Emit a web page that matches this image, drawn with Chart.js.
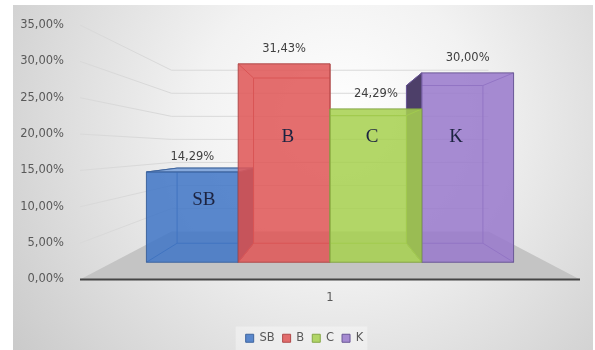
<!DOCTYPE html>
<html>
<head>
<meta charset="utf-8">
<script src="https://cdn.jsdelivr.net/npm/chart.js@4.4.1/dist/chart.umd.min.js"></script>
<style>
  html, body { margin: 0; padding: 0; background: #ffffff; }
  canvas { display: block; }
</style>
</head>
<body>
<canvas id="grade-chart" width="595" height="350"></canvas>
<script>

// chart values
const categories = ['1'];
const seriesNames = ['SB', 'B', 'C', 'K'];
const seriesValues = [14.29, 31.43, 24.29, 30.00];
const yTickValues = [0, 5, 10, 15, 20, 25, 30, 35];

// colours per series: front face, edges, side face, top face
const faceColors = ['rgba(64,118,198,0.86)', 'rgba(223,86,86,0.86)', 'rgba(167,209,79,0.86)', 'rgba(153,121,204,0.86)'];
const edgeColors = ['#3f659e', '#b04a4a', '#84a646', '#6a5796'];
const sideColors = ['#2f4b78', '#7a3434', '#5c7632', '#4d3f69'];
const topColors = ['#86a9dc', '#ee9c9c', '#cbe59a', '#c3b1e2'];

function percentLabel(v) {
  return v.toFixed(2).replace('.', ',') + '%';
}

//-------------------
//- 3D column boxes -
//-------------------
const perspectiveBars = {
  id: 'perspectiveBars',

  afterLayout(chart, args, opts) {
    // legend sits centred on the frame, not on the plot
    chart.legend.left += opts.legendShift;
    chart.legend.right += opts.legendShift;
  },

  beforeDraw(chart, args, opts) {
    const ctx = chart.ctx;
    const fr = opts.frame;
    const w = fr.right - fr.left, h = fr.bottom - fr.top;

    ctx.save();
    const g = ctx.createRadialGradient(fr.left + w * 0.56, fr.top + h * 0.33, 0, fr.left + w * 0.56, fr.top + h * 0.33, w * 0.7);
    g.addColorStop(0, '#ffffff');
    g.addColorStop(0.35, '#f2f2f2');
    g.addColorStop(1, '#c9c9c9');
    ctx.fillStyle = g;
    ctx.fillRect(fr.left, fr.top, w, h);

    // faint backdrop behind the legend
    const boxes = chart.legend.legendHitBoxes;
    if (boxes && boxes.length) {
      const first = boxes[0], last = boxes[boxes.length - 1];
      ctx.fillStyle = 'rgba(255,255,255,0.35)';
      ctx.fillRect(first.left - 10, first.top - 6, last.left + last.width - first.left + 14, fr.bottom - first.top + 6);
    }
    ctx.restore();
  },

  beforeDatasetsDraw(chart, args, opts) {
    const ctx = chart.ctx;
    const area = chart.chartArea;
    const y = chart.scales.y;
    const vp = { x: (area.left + area.right) / 2, y: y.getPixelForValue(opts.eyeLevel) };
    const proj = (px, py, k) => ({ x: vp.x + k * (px - vp.x), y: vp.y + k * (py - vp.y) });

    function poly(pts, fill, stroke) {
      ctx.beginPath();
      ctx.moveTo(pts[0].x, pts[0].y);
      for (let i = 1; i < pts.length; i++) ctx.lineTo(pts[i].x, pts[i].y);
      ctx.closePath();
      if (fill) { ctx.fillStyle = fill; ctx.fill(); }
      if (stroke) { ctx.strokeStyle = stroke; ctx.lineWidth = 1; ctx.stroke(); }
    }

    ctx.save();

    // floor
    const y0 = y.getPixelForValue(0);
    poly([
      { x: area.left, y: y0 }, { x: area.right, y: y0 },
      proj(area.right, y0, opts.wall), proj(area.left, y0, opts.wall)
    ], '#c4c4c4', null);

    // side and back wall gridlines
    ctx.strokeStyle = '#d9d9d9';
    ctx.lineWidth = 1;
    yTickValues.forEach(v => {
      if (v === 0) return;
      const py = y.getPixelForValue(v);
      const a = proj(area.left, py, opts.wall);
      const b = proj(area.right, py, opts.wall);
      ctx.beginPath();
      ctx.moveTo(area.left, py);
      ctx.lineTo(a.x, a.y);
      ctx.lineTo(b.x, b.y);
      ctx.stroke();
    });

    // front edge of the floor
    ctx.strokeStyle = '#454545';
    ctx.lineWidth = 2;
    ctx.beginPath();
    ctx.moveTo(area.left, y0);
    ctx.lineTo(area.right, y0);
    ctx.stroke();

    // outer columns first so the inner ones overlap them
    const bars = chart.data.datasets.map((ds, i) => ({ i, el: chart.getDatasetMeta(i).data[0] }));
    bars.sort((a, b) => Math.abs(b.el.x - vp.x) - Math.abs(a.el.x - vp.x));

    bars.forEach(({ i, el }) => {
      const L = el.x - el.width / 2, R = el.x + el.width / 2, T = el.y, B = el.base;
      const f = (px, py) => proj(px, py, opts.front);
      const k = (px, py) => proj(px, py, opts.back);
      const edge = edgeColors[i];

      // hidden edges show through the glassy faces
      poly([k(L, T), k(R, T), k(R, B), k(L, B)], null, edge);
      [[L, T], [R, T], [R, B], [L, B]].forEach(([px, py]) => {
        const a = f(px, py), b = k(px, py);
        ctx.beginPath();
        ctx.moveTo(a.x, a.y);
        ctx.lineTo(b.x, b.y);
        ctx.stroke();
      });

      if (R < vp.x - 1) poly([f(R, T), k(R, T), k(R, B), f(R, B)], sideColors[i], edge);
      if (L > vp.x + 1) poly([f(L, T), k(L, T), k(L, B), f(L, B)], sideColors[i], edge);
      if (T > vp.y) poly([f(L, T), f(R, T), k(R, T), k(L, T)], topColors[i], edge);

      poly([f(L, T), f(R, T), f(R, B), f(L, B)], faceColors[i], edge);
    });

    // value labels above the columns, series letters on the faces
    ctx.textAlign = 'center';
    ctx.textBaseline = 'middle';
    bars.forEach(({ i, el }) => {
      const top = proj(el.x, el.y, opts.front);
      ctx.font = '11.5px "DejaVu Sans"';
      ctx.fillStyle = '#404040';
      ctx.fillText(percentLabel(seriesValues[i]), top.x, top.y - 15);

      const mid = proj(el.x, y.getPixelForValue(opts.letterLevels[i]), (opts.front + opts.back) / 2);
      ctx.font = '19px "Liberation Serif"';
      ctx.fillStyle = '#1c2340';
      ctx.fillText(seriesNames[i], mid.x, mid.y);
    });

    ctx.restore();
    return false;
  }
};

const gradeChart = new Chart(document.getElementById('grade-chart'), {
  type: 'bar',
  data: {
    labels: categories,
    datasets: seriesNames.map((name, i) => ({
      label: name,
      data: [seriesValues[i]],
      backgroundColor: faceColors[i],
      borderColor: edgeColors[i],
      borderWidth: 1,
      categoryPercentage: 0.846,
      barPercentage: 1.0,
    })),
  },
  options: {
    responsive: false,
    animation: false,
    layout: {
      padding: { top: 25, right: 15, bottom: -4, left: 13 },
    },
    plugins: {
      legend: {
        position: 'bottom',
        labels: {
          boxWidth: 8,
          boxHeight: 8,
          padding: 8,
          color: '#595959',
          font: { family: 'DejaVu Sans', size: 11.5 },
        },
      },
      tooltip: { enabled: false },
      perspectiveBars: {
        frame: { left: 13, top: 5, right: 593, bottom: 350 },
        eyeLevel: 18,
        front: 0.868,
        back: 0.723,
        wall: 0.634,
        letterLevels: [9.2, 20, 20, 20],
        legendShift: 8,
      },
    },
    scales: {
      x: {
        grid: { display: false, drawTicks: false },
        border: { display: false },
        ticks: {
          padding: 12,
          color: '#595959',
          font: { family: 'DejaVu Sans', size: 11.5 },
        },
        afterFit(scale) { scale.height = 45; },
      },
      y: {
        min: 0,
        max: 35,
        grid: { display: false, drawTicks: false },
        border: { display: false },
        ticks: {
          stepSize: 5,
          padding: 16,
          color: '#595959',
          font: { family: 'DejaVu Sans', size: 11.5 },
          callback: (v) => percentLabel(v),
        },
        afterFit(scale) { scale.width = 67; },
      },
    },
  },
  plugins: [perspectiveBars],
});

</script>
</body>
</html>
